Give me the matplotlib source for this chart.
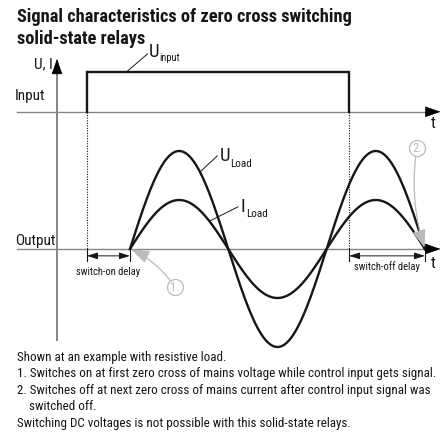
import numpy as np
import matplotlib.pyplot as plt

plt.rcParams['font.family'] = ['Roboto Condensed', 'DejaVu Sans']
plt.rcParams['font.stretch'] = 'condensed'

# timing in ms (50 Hz mains)
period = 20.0
input_on = 3.05
input_off = 29.7
switch_on = 7.42
switch_off = 37.42
axis_start = -4.07
axis_end = 39.0

# levels (relative units, output baseline = 0)
input_low = 1.40
input_high = 1.81
u_load_amp = 1.0
i_load_amp = 0.5
y_axis_bottom = -0.93
y_axis_top = 1.94

title_lines = ['Signal characteristics of zero cross switching', 'solid-state relays']
notes = [
    'Shown at an example with resistive load.',
    '1. Switches on at first zero cross of mains voltage while control input gets signal.',
    '2. Switches off at next zero cross of mains current after control input signal was',
    '    switched off.',
    'Switching DC voltages is not possible with this solid-state relays.',
]

W, H = 441, 432
fig = plt.figure(figsize=(W / 100, H / 100), dpi=100)
ax = fig.add_axes([0, 0, 1, 1])
ax.set_xlim(-57 / 9.833, (W - 57) / 9.833)
ax.set_ylim(-(H - 249) / 98, 249 / 98)
ax.axis('off')

ink = '#161616'
grey = '#858585'
light = '#bbbbbb'


def fx(x):
    return x / W


def fy(y):
    return 1 - y / H


# axes of the diagram
for lvl in [input_low, 0]:
    ax.plot([axis_start, axis_end - 0.5], [lvl, lvl], color=grey, lw=1.0)
    ax.annotate('', xy=(axis_end, lvl), xytext=(axis_end - 1.0, lvl),
                arrowprops=dict(arrowstyle='-|>,head_length=1.0,head_width=0.35',
                                color='black', lw=0.5, shrinkA=0, shrinkB=0, mutation_scale=10))
ax.plot([0, 0], [y_axis_bottom, y_axis_top - 0.05], color=grey, lw=1.4)
ax.annotate('', xy=(0, y_axis_top), xytext=(0, y_axis_top - 0.1),
            arrowprops=dict(arrowstyle='-|>,head_length=1.0,head_width=0.35',
                            color='black', lw=0.5, shrinkA=0, shrinkB=0, mutation_scale=10))

# input pulse
ax.plot([input_on, input_on, input_off, input_off],
        [input_low, input_high, input_high, input_low], color=ink, lw=1.7, solid_joinstyle='miter')

# dotted markers
for t in [input_on, input_off]:
    ax.plot([t, t], [input_low, 0], color=ink, lw=0.8, ls=(0, (1, 1.3)))

# load voltage / current
t = np.linspace(switch_on, switch_off, 600)
phase = 2 * np.pi * (t - switch_on) / period
u_load = u_load_amp * np.sin(phase)
i_load = i_load_amp * np.sin(phase)
ax.plot(t, u_load, color=ink, lw=1.7)
ax.plot(t, i_load, color=ink, lw=1.7)

# delay brackets
for a, b, label, ty in [(input_on, switch_on, 'switch-on delay', 272),
                        (input_off, switch_off, 'switch-off delay', 267)]:
    for x in [a, b]:
        ax.plot([x, x], [0, -0.12], color=ink, lw=0.8)
    ax.annotate('', xy=(b, -0.07), xytext=(a, -0.07),
                arrowprops=dict(arrowstyle='<|-|>,head_length=0.8,head_width=0.25',
                                color=ink, lw=0.7, shrinkA=0, shrinkB=0, mutation_scale=8))
    xm = (a + b) / 2
    fig.text(fx(57 + xm * 9.833), fy(ty), label, fontsize=7.6, color=ink,
             ha='center', va='center')

# leader lines for labels
u_in_t = 7.1
ax.plot([u_in_t, 9.2], [input_high, 1.99], color=ink, lw=0.7)
u_t = 14.54
u_at = u_load_amp * np.sin(2 * np.pi * (u_t - switch_on) / period)
ax.plot([u_t, 16.3], [u_at, 0.95], color=ink, lw=0.7)
i_t = 15.5
i_at = i_load_amp * np.sin(2 * np.pi * (i_t - switch_on) / period)
ax.plot([i_t, 18.4], [i_at, 0.43], color=ink, lw=0.7)

fig.text(fx(149), fy(57), 'U', fontsize=13.5, color=ink, va='baseline')
fig.text(fx(159), fy(61), 'input', fontsize=7.5, color=ink, va='baseline')
fig.text(fx(220), fy(161), 'U', fontsize=13.5, color=ink, va='baseline')
fig.text(fx(230), fy(167), 'Load', fontsize=8, color=ink, va='baseline')
fig.text(fx(241), fy(212), 'I', fontsize=13.5, color=ink, va='baseline')
fig.text(fx(246), fy(217), 'Load', fontsize=8, color=ink, va='baseline')

# circled callouts
for cx, cy, tx, ty, num, rad in [(12.0, -0.39, switch_on, 0.0, '1.', 0.15),
                                 (36.6, 1.03, switch_off, 0.0, '2.', 0.12)]:
    ax.plot(cx, cy, 'o', ms=11.5, mfc='white', mec=light, mew=0.9)
    ax.text(cx, cy, num, fontsize=9, color=light, ha='center', va='center')
    ax.annotate('', xy=(tx, ty), xytext=(cx, cy),
                arrowprops=dict(arrowstyle='-|>,head_length=1.1,head_width=0.4',
                                color=light, lw=0.9, shrinkA=6, shrinkB=1, mutation_scale=10,
                                connectionstyle='arc3,rad=%s' % rad))

# axis texts
fig.text(fx(34), fy(68), 'U, I', fontsize=11, color=ink, va='baseline')
fig.text(fx(15), fy(100), 'Input', fontsize=11, color=ink, va='baseline')
fig.text(fx(15), fy(245), 'Output', fontsize=11, color=ink, va='baseline')
fig.text(fx(433), fy(128), 't', fontsize=12, color=ink, ha='center', va='baseline')
fig.text(fx(433), fy(268), 't', fontsize=12, color=ink, ha='center', va='baseline')

# title
fig.text(fx(17), fy(22), title_lines[0], fontsize=13.2, fontweight='bold', color=ink, va='baseline')
fig.text(fx(17), fy(44), title_lines[1], fontsize=13.2, fontweight='bold', color=ink, va='baseline')

# notes
for k, line in enumerate(notes):
    fig.text(fx(17), fy(361 + k * 16.5), line, fontsize=9.4, color=ink, va='baseline')

fig.savefig('out.png', dpi=100)
